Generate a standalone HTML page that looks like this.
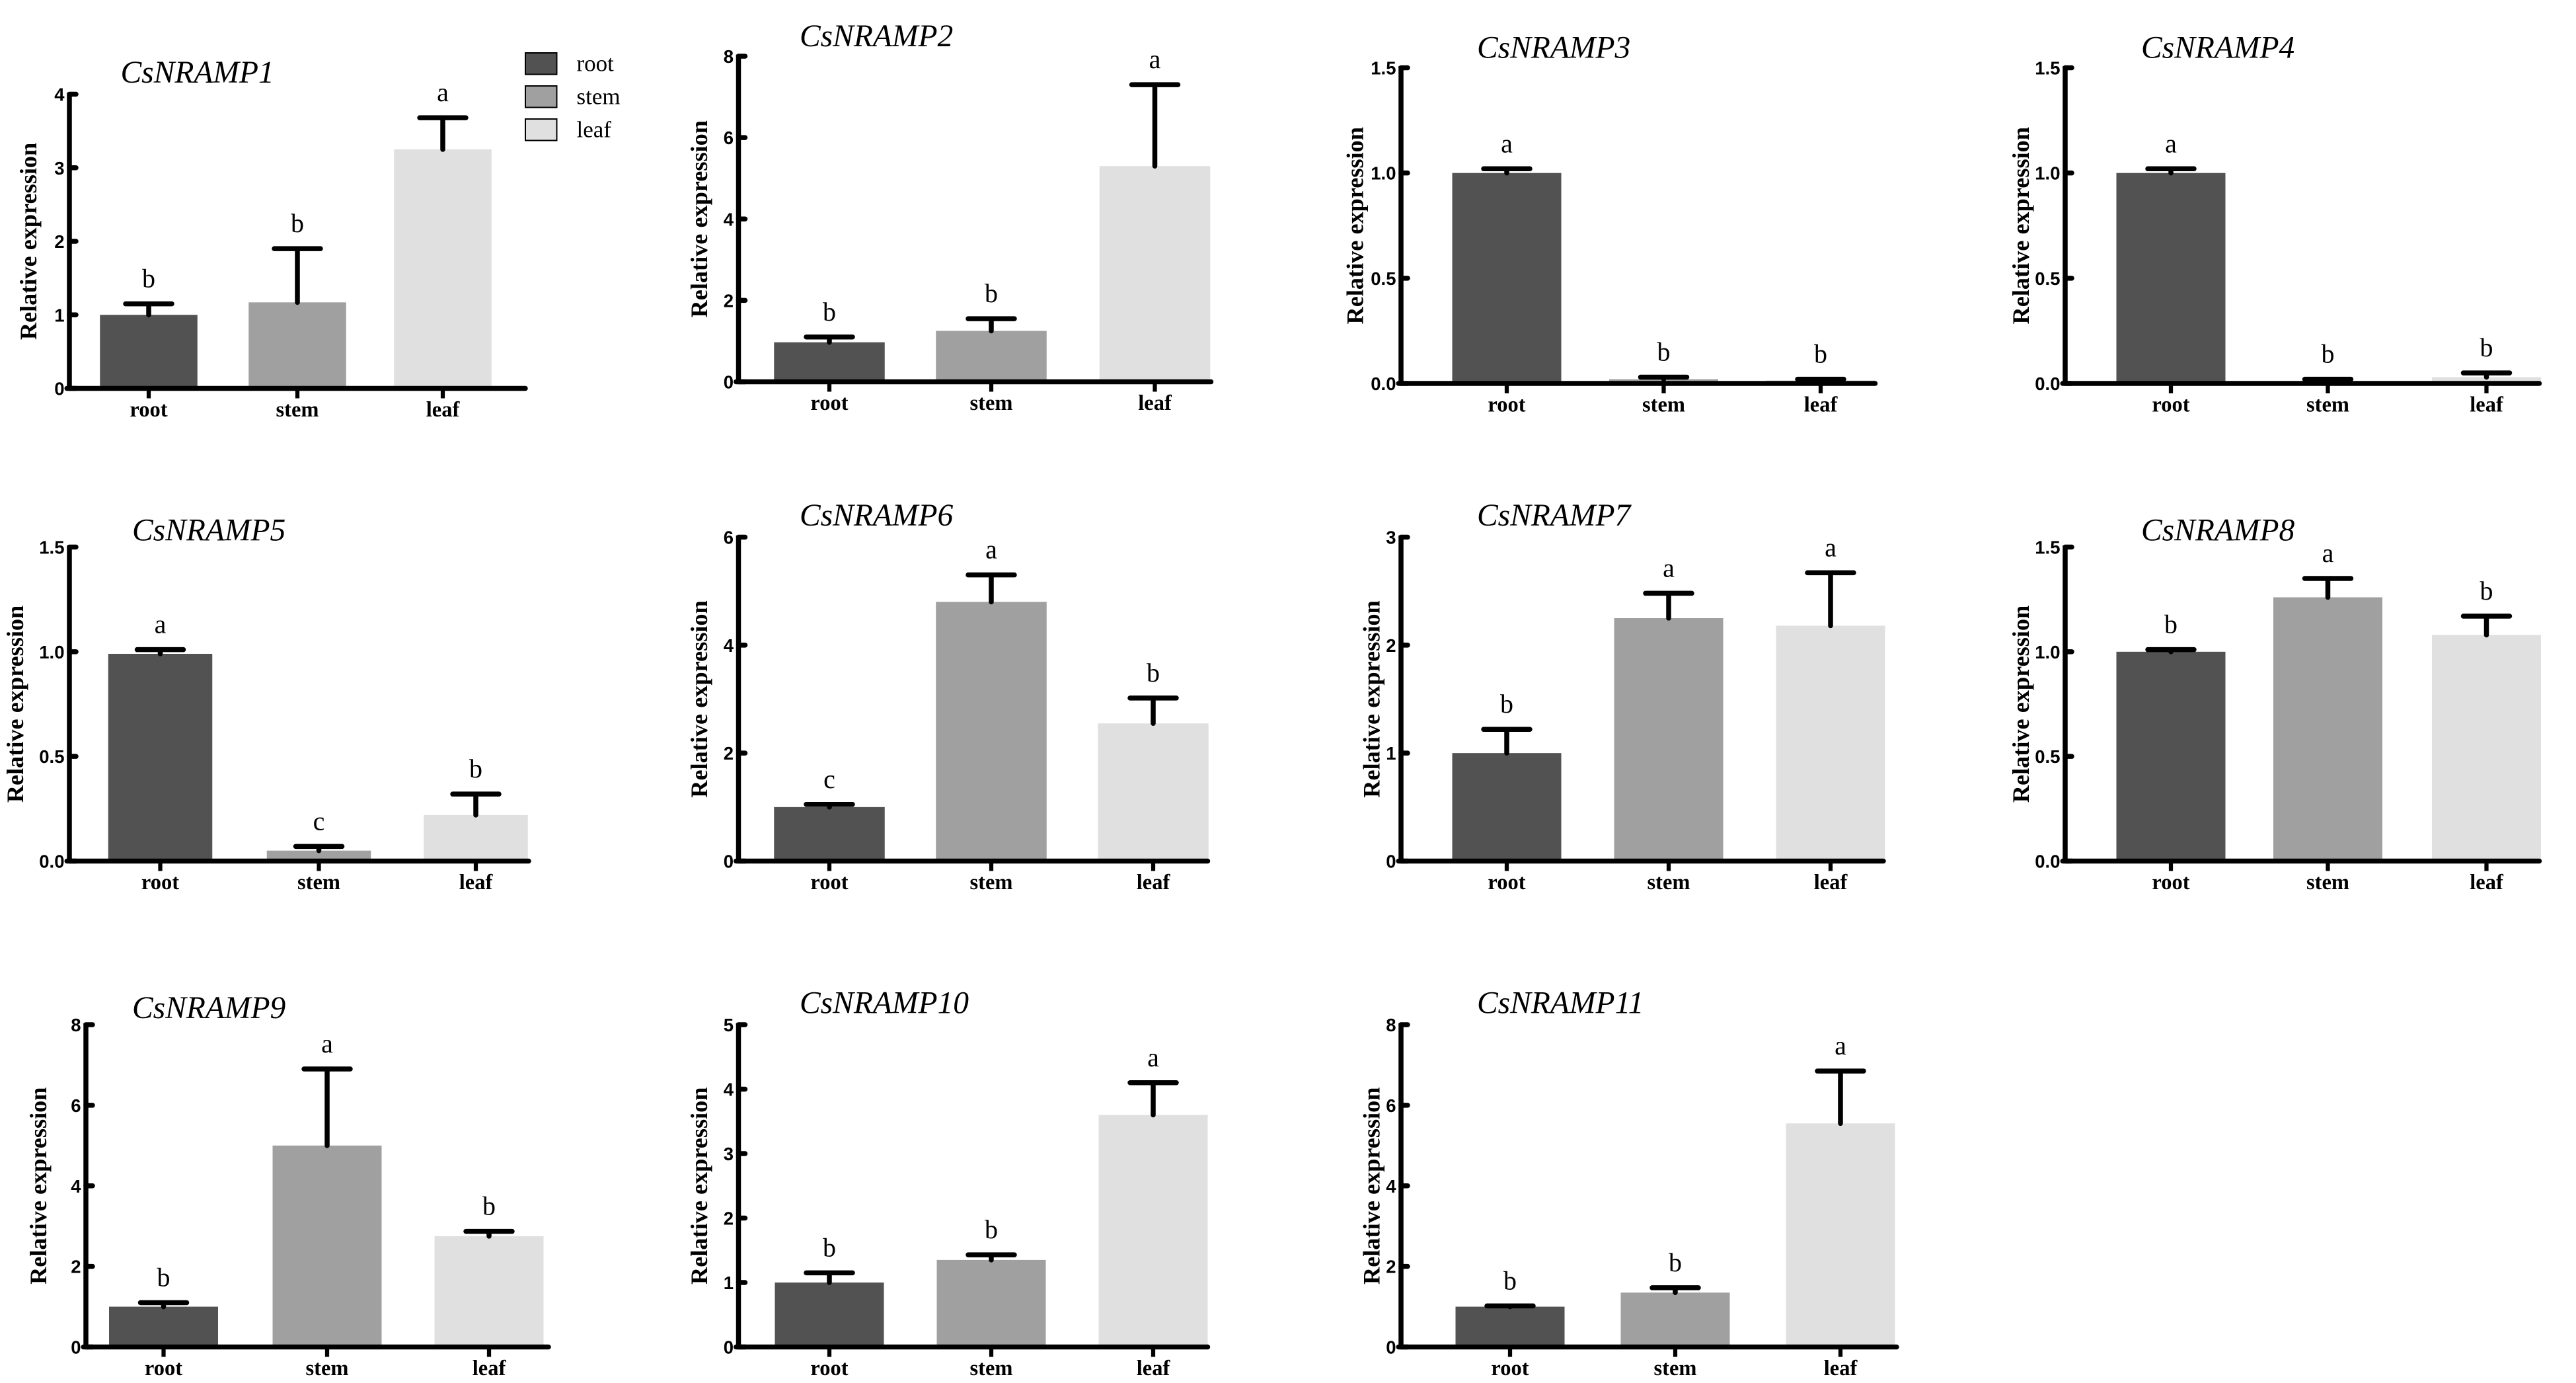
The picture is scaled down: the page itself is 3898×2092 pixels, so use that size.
<!DOCTYPE html>
<html><head><meta charset="utf-8"><style>
html,body{margin:0;padding:0;background:#fff;}
svg{display:block;}
</style></head><body>
<svg id="fig" xmlns="http://www.w3.org/2000/svg" width="3898" height="2092" viewBox="0 0 1559.2 836.8">
<rect width="1559.2" height="836.8" fill="#fff"/>
<g>
  <rect x="318" y="32" width="19" height="13" fill="#525252" stroke="#000" stroke-width="0.8"/>
  <text x="349" y="43" font-family="Liberation Serif, serif" font-size="14">root</text>
  <rect x="318" y="52" width="19" height="13" fill="#a0a0a0" stroke="#000" stroke-width="0.8"/>
  <text x="349" y="63" font-family="Liberation Serif, serif" font-size="14">stem</text>
  <rect x="318" y="72" width="19" height="13" fill="#e0e0e0" stroke="#000" stroke-width="0.8"/>
  <text x="349" y="83" font-family="Liberation Serif, serif" font-size="14">leaf</text>
</g>
</svg>
<script>
const genes = ["CsNRAMP1","CsNRAMP2","CsNRAMP3","CsNRAMP4","CsNRAMP5","CsNRAMP6","CsNRAMP7","CsNRAMP8","CsNRAMP9","CsNRAMP10","CsNRAMP11"];
const categories = ["root","stem","leaf"];
const rootVals = [1.0, 0.97, 1.0, 1.0, 0.99, 1.0, 1.0, 1.0, 1.0, 1.0, 1.0];
const stemVals = [1.17, 1.25, 0.02, 0.01, 0.05, 4.8, 2.25, 1.26, 5.0, 1.35, 1.35];
const leafVals = [3.25, 5.3, 0.015, 0.03, 0.22, 2.55, 2.18, 1.08, 2.75, 3.6, 5.55];
const rootErr = [0.15, 0.13, 0.02, 0.02, 0.02, 0.05, 0.22, 0.01, 0.1, 0.15, 0.02];
const stemErr = [0.73, 0.3, 0.01, 0.01, 0.02, 0.5, 0.23, 0.09, 1.9, 0.08, 0.12];
const leafErr = [0.43, 2.0, 0.005, 0.02, 0.1, 0.47, 0.49, 0.09, 0.12, 0.5, 1.3];
const rootLetters = ["b","b","a","a","a","c","b","b","b","b","b"];
const stemLetters = ["b","b","b","b","c","a","a","a","a","b","b"];
const leafLetters = ["a","a","b","b","b","b","a","b","b","a","a"];
const yMaxes = [4, 8, 1.5, 1.5, 1.5, 6, 3, 1.5, 8, 5, 8];
const yStep = [1, 2, 0.5, 0.5, 0.5, 2, 1, 0.5, 2, 1, 2];
const yDecimals = [0, 0, 1, 1, 1, 0, 0, 1, 0, 0, 0];

// layout (pixel geometry, not data)
const L = [
 {ax:42, top:57, zero:235, right:318, cx:[90,180,268], bw:59, yl:22, tx:73, ty:50},
 {ax:447, top:34, zero:231, right:733, cx:[502,600,699], bw:67, yl:428, tx:484, ty:28},
 {ax:848, top:41, zero:232, right:1135, cx:[912,1007,1102], bw:66, yl:825, tx:894, ty:35},
 {ax:1250, top:41, zero:232, right:1537, cx:[1314,1409,1505], bw:66, yl:1228, tx:1296, ty:35},
 {ax:42, top:331, zero:521, right:320, cx:[97,193,288], bw:63, yl:14, tx:80, ty:327},
 {ax:447, top:325, zero:521, right:731, cx:[502,600,698], bw:67, yl:428, tx:484, ty:318},
 {ax:848, top:325, zero:521, right:1140, cx:[912,1010,1108], bw:66, yl:835, tx:894, ty:318},
 {ax:1250, top:331, zero:521, right:1537, cx:[1314,1409,1505], bw:66, yl:1228, tx:1296, ty:327},
 {ax:52, top:620, zero:815, right:332, cx:[99,198,296], bw:66, yl:28, tx:80, ty:616},
 {ax:447, top:620, zero:815, right:731, cx:[502,600,698], bw:66, yl:428, tx:484, ty:613},
 {ax:848, top:620, zero:815, right:1148, cx:[914,1014,1114], bw:66, yl:835, tx:894, ty:613}
];
const colors = ["#525252","#a0a0a0","#e0e0e0"];
const NS = "http://www.w3.org/2000/svg";
const svg = document.getElementById("fig");
function mk(tag, attrs, parent){
  const e = document.createElementNS(NS, tag);
  for (const k in attrs) e.setAttribute(k, attrs[k]);
  parent.appendChild(e);
  return e;
}
genes.forEach((g, i) => {
  const p = L[i];
  const vals = [rootVals[i], stemVals[i], leafVals[i]];
  const errs = [rootErr[i], stemErr[i], leafErr[i]];
  const lets = [rootLetters[i], stemLetters[i], leafLetters[i]];
  const y = v => p.zero - (v / yMaxes[i]) * (p.zero - p.top);
  const grp = mk("g", {}, svg);
  
  
  const t = mk("text", {x:p.tx, y:p.ty, "font-family":"Liberation Serif, serif", "font-style":"italic", "font-size":"19"}, grp);
  t.textContent = g;
  
  
  vals.forEach((v, j) => {
    const r = mk("rect", {x:p.cx[j]-p.bw/2, y:y(v), width:p.bw, height:p.zero - y(v), fill:colors[j]}, grp);
    
    
    const top = y(v + errs[j]);
    const eb = mk("path", {d:`M${p.cx[j]},${y(v)} V${top} M${p.cx[j]-14},${top} H${p.cx[j]+14}`, stroke:"#000", "stroke-width":"3", "stroke-linecap":"round", fill:"none"}, grp);
    
    
    const lt = mk("text", {x:p.cx[j], y:top-10, "text-anchor":"middle", "font-family":"Liberation Serif, serif", "font-size":"16"}, grp);
    lt.textContent = lets[j];
    
    
    const xt = mk("line", {x1:p.cx[j], x2:p.cx[j], y1:p.zero, y2:p.zero+6, stroke:"#000", "stroke-width":"2.5"}, grp);
    
    
    const xl = mk("text", {x:p.cx[j], y:p.zero+17, "text-anchor":"middle", "font-family":"Liberation Serif, serif", "font-weight":"bold", "font-size":"13"}, grp);
    xl.textContent = categories[j];
    
    
  });
  const ya = mk("line", {x1:p.ax, x2:p.ax, y1:p.top-1, y2:p.zero, stroke:"#000", "stroke-width":"3"}, grp);
  
  
  const xa = mk("line", {x1:p.ax-1.5, x2:p.right, y1:p.zero, y2:p.zero, stroke:"#000", "stroke-width":"3", "stroke-linecap":"round"}, grp);
  
  
  for (let v = 0; v <= yMaxes[i] + 1e-9; v += yStep[i]) {
    const tk = mk("line", {x1:p.ax, x2:p.ax+4, y1:y(v), y2:y(v), stroke:"#000", "stroke-width":"3", "stroke-linecap":"round"}, grp);
    
    
    const tl = mk("text", {x:p.ax-3, y:y(v)+4, "text-anchor":"end", "font-family":"Liberation Sans, sans-serif", "font-weight":"bold", "font-size":"11"}, grp);
    tl.textContent = v.toFixed(yDecimals[i]);
    
    
  }
  const yc = (p.top + p.zero) / 2;
  const yt = mk("text", {x:p.yl, y:yc, transform:`rotate(-90 ${p.yl} ${yc})`, "text-anchor":"middle", "font-family":"Liberation Serif, serif", "font-weight":"bold", "font-size":"14.5"}, grp);
  yt.textContent = "Relative expression";
  
  
});
</script>
</body></html>
